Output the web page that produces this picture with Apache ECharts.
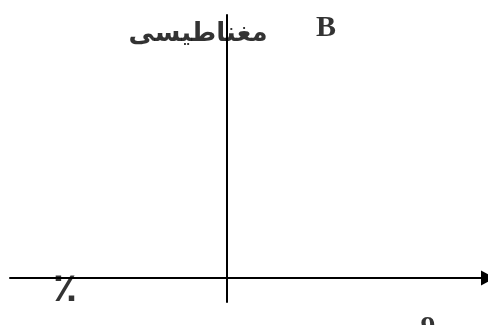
<!DOCTYPE html>
<html>
<head>
<meta charset="utf-8">
<script src="https://cdn.jsdelivr.net/npm/echarts@6/dist/echarts.min.js"></script>
<style>
html,body{margin:0;padding:0;background:#fff;}
#chart{width:488px;height:325px;}
</style>
</head>
<body>
<div id="chart"></div>
<script>
// axis extents (data units), zero is where the two axes cross
var xRange = [-217, 261];
var yRange = [-24, 263];

// annotation texts and where they sit in data units
var labelTexts = ['مغناطيسى', 'B', '٪', '9'];
var labelX = [-29, 99, -162, 201];
var labelY = [244, 250, -13, -50];
var labelSizes = [26, 30, 40, 30];

var chart = echarts.init(document.getElementById('chart'));

var labelData = [];
for (var i = 0; i < labelTexts.length; i++) {
	labelData.push({
		value: [labelX[i], labelY[i]],
		name: labelTexts[i],
		label: {fontSize: labelSizes[i]}
	});
}

var option = {
	backgroundColor: '#fff',
	animation: false,
	grid: {left: 10, right: 0, top: 15, bottom: 23},
	xAxis: {
		type: 'value',
		min: xRange[0],
		max: xRange[1],
		axisLine: {
			onZero: true,
			symbol: ['none', 'triangle'],
			symbolSize: [15, 14],
			lineStyle: {color: '#000', width: 2}
		},
		axisTick: {show: false},
		axisLabel: {show: false},
		splitLine: {show: false}
	},
	yAxis: {
		type: 'value',
		min: yRange[0],
		max: yRange[1],
		axisLine: {
			onZero: true,
			lineStyle: {color: '#000', width: 2}
		},
		axisTick: {show: false},
		axisLabel: {show: false},
		splitLine: {show: false}
	},
	series: [{
		type: 'scatter',
		symbolSize: 0,
		clip: false,
		silent: true,
		data: labelData,
		label: {
			show: true,
			position: 'inside',
			color: '#000',
			fontWeight: 'bold',
			fontFamily: 'Liberation Serif, DejaVu Sans',
			formatter: function (p) { return p.name; }
		}
	}]
};

chart.setOption(option);
</script>
</body>
</html>
